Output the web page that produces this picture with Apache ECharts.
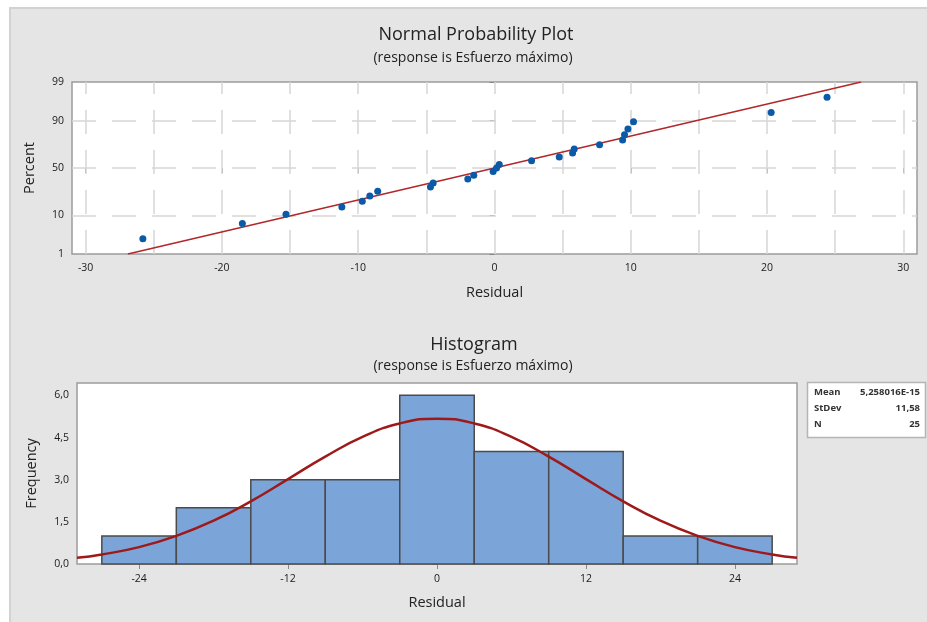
<!DOCTYPE html>
<html>
<head>
<meta charset="utf-8">
<script src="https://cdn.jsdelivr.net/npm/echarts@6/dist/echarts.min.js"></script>
<style>
  body { margin: 0; background: #fff; }
  #wrap { position: relative; width: 927px; height: 622px; }
  #panel { position: absolute; left: 9px; top: 7px; right: 0; bottom: 0; background: #e5e5e5;
           border-left: 2px solid #d2d2d2; border-top: 2px solid #d2d2d2; }
  #chart { position: absolute; left: 0; top: 0; width: 927px; height: 622px; }
</style>
</head>
<body>
<div id="wrap"><div id="panel"></div><div id="chart"></div></div>
<script>
// normal probability plot (residuals sorted, percent = plotting position)
var residuals = [-25.8, -18.5, -15.3, -11.2, -9.7, -9.15, -8.57, -4.7, -4.5, -1.96, -1.52, -0.1, 0.15,
                 0.35, 2.72, 4.75, 5.73, 5.85, 7.71, 9.4, 9.54, 9.79, 10.2, 20.3, 24.4];
var percents = [2.8, 6.7, 10.6, 14.6, 18.5, 22.4, 26.4, 30.3, 34.3, 38.2, 42.1, 46.1, 50,
                53.9, 57.9, 61.8, 65.7, 69.7, 73.6, 77.6, 81.5, 85.4, 89.4, 93.3, 97.2];
var fitX = [-26.9, 26.9];
var fitPct = [1, 99];
var pctTicks = [1, 10, 50, 90, 99];
var pctGrid = [10, 50, 90];
var resTicks = [-30, -20, -10, 0, 10, 20, 30];
var resGrid = [-30, -25, -20, -15, -10, -5, 0, 5, 10, 15, 20, 25, 30];

// histogram
var binCenters = [-24, -18, -12, -6, 0, 6, 12, 18, 24];
var binWidth = 6;
var counts = [1, 2, 3, 3, 6, 4, 4, 1, 1];
var curveX = [-29, -27, -24, -21, -18, -15, -12, -9, -6, -3, 0, 3, 6, 9, 12, 15, 18, 21, 24, 27, 29];
var curveY = [0.22, 0.34, 0.6, 1.0, 1.54, 2.23, 3.02, 3.82, 4.52, 5.0, 5.17, 5.0, 4.52, 3.82, 3.02, 2.23, 1.54, 1.0, 0.6, 0.34, 0.22];
var histXTicks = [-24, -12, 0, 12, 24];
var freqTicks = [0, 1.5, 3, 4.5, 6];
var stats = [['Mean', '5,258016E-15'], ['StDev', '11,58'], ['N', '25']];

// inverse normal cdf (Acklam)
function normInv(p) {
    var a = [-3.969683028665376e+01, 2.209460984245205e+02, -2.759285104469687e+02, 1.383577518672690e+02, -3.066479806614716e+01, 2.506628277459239e+00];
    var b = [-5.447609879822406e+01, 1.615858368580409e+02, -1.556989798598866e+02, 6.680131188771972e+01, -1.328068155288572e+01];
    var c = [-7.784894002430293e-03, -3.223964580411365e-01, -2.400758277161838e+00, -2.549732539343734e+00, 4.374664141464968e+00, 2.938163982698783e+00];
    var d = [7.784695709041462e-03, 3.224671290700398e-01, 2.445134137142996e+00, 3.754408661907416e+00];
    var pl = 0.02425, q, r;
    if (p < pl) {
        q = Math.sqrt(-2 * Math.log(p));
        return (((((c[0]*q+c[1])*q+c[2])*q+c[3])*q+c[4])*q+c[5]) / ((((d[0]*q+d[1])*q+d[2])*q+d[3])*q+1);
    }
    if (p > 1 - pl) {
        q = Math.sqrt(-2 * Math.log(1 - p));
        return -(((((c[0]*q+c[1])*q+c[2])*q+c[3])*q+c[4])*q+c[5]) / ((((d[0]*q+d[1])*q+d[2])*q+d[3])*q+1);
    }
    q = p - 0.5; r = q * q;
    return (((((a[0]*r+a[1])*r+a[2])*r+a[3])*r+a[4])*r+a[5])*q / (((((b[0]*r+b[1])*r+b[2])*r+b[3])*r+b[4])*r+1);
}
function z(pct) { return normInv(pct / 100); }

var zTicks = pctTicks.map(z);
var points = residuals.map(function (v, i) { return [v, z(percents[i])]; });
var fitLine = fitX.map(function (v, i) { return [v, z(fitPct[i])]; });
var gridMarks = resGrid.map(function (v) { return { xAxis: v }; })
    .concat(pctGrid.map(function (p) { return { yAxis: z(p) }; }));
var bars = binCenters.map(function (c, i) { return [c - binWidth / 2, c + binWidth / 2, counts[i]]; });
var curve = curveX.map(function (v, i) { return [v, curveY[i]]; });

var font = '"Open Sans", "Noto Sans", sans-serif';
var tickLabel = { fontSize: 10.5, color: '#1a1a1a', fontFamily: font };
var axisName = { fontSize: 14.5, color: '#222', fontFamily: font };

var chart = echarts.init(document.getElementById('chart'), null, { renderer: 'canvas' });

var statsGraphic = [{
    type: 'rect', shape: { x: 807.5, y: 382.5, width: 118, height: 55 },
    style: { fill: '#fff', stroke: '#b5b5b5', lineWidth: 1.5 }
}];
stats.forEach(function (s, i) {
    statsGraphic.push({ type: 'text', x: 814, y: 392 + i * 16,
        style: { text: s[0], fontSize: 9.5, fontWeight: 'bold', fill: '#333', fontFamily: font, verticalAlign: 'middle' } });
    statsGraphic.push({ type: 'text', x: 920, y: 392 + i * 16,
        style: { text: s[1], fontSize: 9.5, fontWeight: 'bold', fill: '#333', fontFamily: font, align: 'right', verticalAlign: 'middle' } });
});

function title(text, x, y, size) {
    return { type: 'text', x: x, y: y,
        style: { text: text, fontSize: size, fill: '#222', fontFamily: font, align: 'center', verticalAlign: 'middle' } };
}

chart.setOption({
    backgroundColor: 'transparent',
    animation: false,
    graphic: [
        title('Normal Probability Plot', 476, 35, 18),
        title('(response is Esfuerzo máximo)', 473, 58, 14),
        title('Histogram', 474, 345, 18),
        title('(response is Esfuerzo máximo)', 473, 366, 14)
    ].concat(statsGraphic),
    grid: [
        { left: 72, top: 82, width: 845, height: 172, show: true, backgroundColor: '#fff',
          borderColor: '#9c9c9c', borderWidth: 1.5 },
        { left: 77, top: 383, width: 720, height: 181, show: true, backgroundColor: '#fff',
          borderColor: '#9c9c9c', borderWidth: 1.5 }
    ],
    xAxis: [{
        gridIndex: 0, type: 'value', min: -31, max: 31,
        name: 'Residual', nameLocation: 'middle', nameGap: 31, nameTextStyle: axisName,
        axisLine: { show: false },
        axisTick: { show: true, length: 5, customValues: resTicks, lineStyle: { color: '#888' } },
        axisLabel: Object.assign({ margin: 9, customValues: resTicks }, tickLabel),
        splitLine: { show: false }
    }, {
        gridIndex: 1, type: 'value', min: -29, max: 29,
        name: 'Residual', nameLocation: 'middle', nameGap: 31, nameTextStyle: axisName,
        axisLine: { show: false },
        axisTick: { show: true, length: 5, customValues: histXTicks, lineStyle: { color: '#888' } },
        axisLabel: Object.assign({ margin: 10, customValues: histXTicks }, tickLabel),
        splitLine: { show: false }
    }],
    yAxis: [{
        gridIndex: 0, type: 'value', min: z(1), max: z(99),
        name: 'Percent', nameLocation: 'middle', nameGap: 35, nameTextStyle: axisName,
        axisLine: { show: false },
        axisTick: { show: true, length: 5, customValues: zTicks, lineStyle: { color: '#888' } },
        axisLabel: Object.assign({ margin: 8, customValues: zTicks,
            formatter: function (v) {
                for (var i = 0; i < zTicks.length; i++) {
                    if (Math.abs(zTicks[i] - v) < 1e-6) return String(pctTicks[i]);
                }
                return '';
            } }, tickLabel),
        splitLine: { show: false }
    }, {
        gridIndex: 1, type: 'value', min: 0, max: 6.44,
        name: 'Frequency', nameLocation: 'middle', nameGap: 38, nameTextStyle: axisName,
        axisLine: { show: false },
        axisTick: { show: true, length: 5, customValues: freqTicks, lineStyle: { color: '#888' } },
        axisLabel: Object.assign({ margin: 8, customValues: freqTicks,
            formatter: function (v) { return v.toFixed(1).replace('.', ','); } }, tickLabel),
        splitLine: { show: false }
    }],
    series: [{
        // dashed reference grid
        type: 'line', xAxisIndex: 0, yAxisIndex: 0, data: [], z: 1, silent: true,
        markLine: {
            z: 1, silent: true, symbol: 'none', label: { show: false },
            lineStyle: { color: '#d6d6d6', width: 1.5, type: [24, 16] },
            data: gridMarks
        }
    }, {
        name: 'Fit', type: 'line', xAxisIndex: 0, yAxisIndex: 0, data: fitLine, z: 3,
        symbol: 'none', lineStyle: { color: '#b0282a', width: 1.5 }
    }, {
        name: 'Residuals', type: 'scatter', xAxisIndex: 0, yAxisIndex: 0, data: points, z: 6,
        symbol: 'circle', symbolSize: 7, itemStyle: { color: '#0b5aa8', opacity: 1 }
    }, {
        name: 'Histogram', type: 'custom', xAxisIndex: 1, yAxisIndex: 1, data: bars, z: 2,
        encode: { x: [0, 1], y: 2 },
        renderItem: function (params, api) {
            var lo = api.coord([api.value(0), 0]);
            var hi = api.coord([api.value(1), api.value(2)]);
            return {
                type: 'rect',
                shape: { x: lo[0], y: hi[1], width: hi[0] - lo[0], height: lo[1] - hi[1] },
                style: { fill: '#7ba4d8', stroke: '#4b4b4b', lineWidth: 1.5 }
            };
        }
    }, {
        name: 'Normal', type: 'line', xAxisIndex: 1, yAxisIndex: 1, data: curve, z: 3,
        smooth: true, symbol: 'none', lineStyle: { color: '#9e1a1a', width: 2.5 }
    }]
});
</script>
</body>
</html>
